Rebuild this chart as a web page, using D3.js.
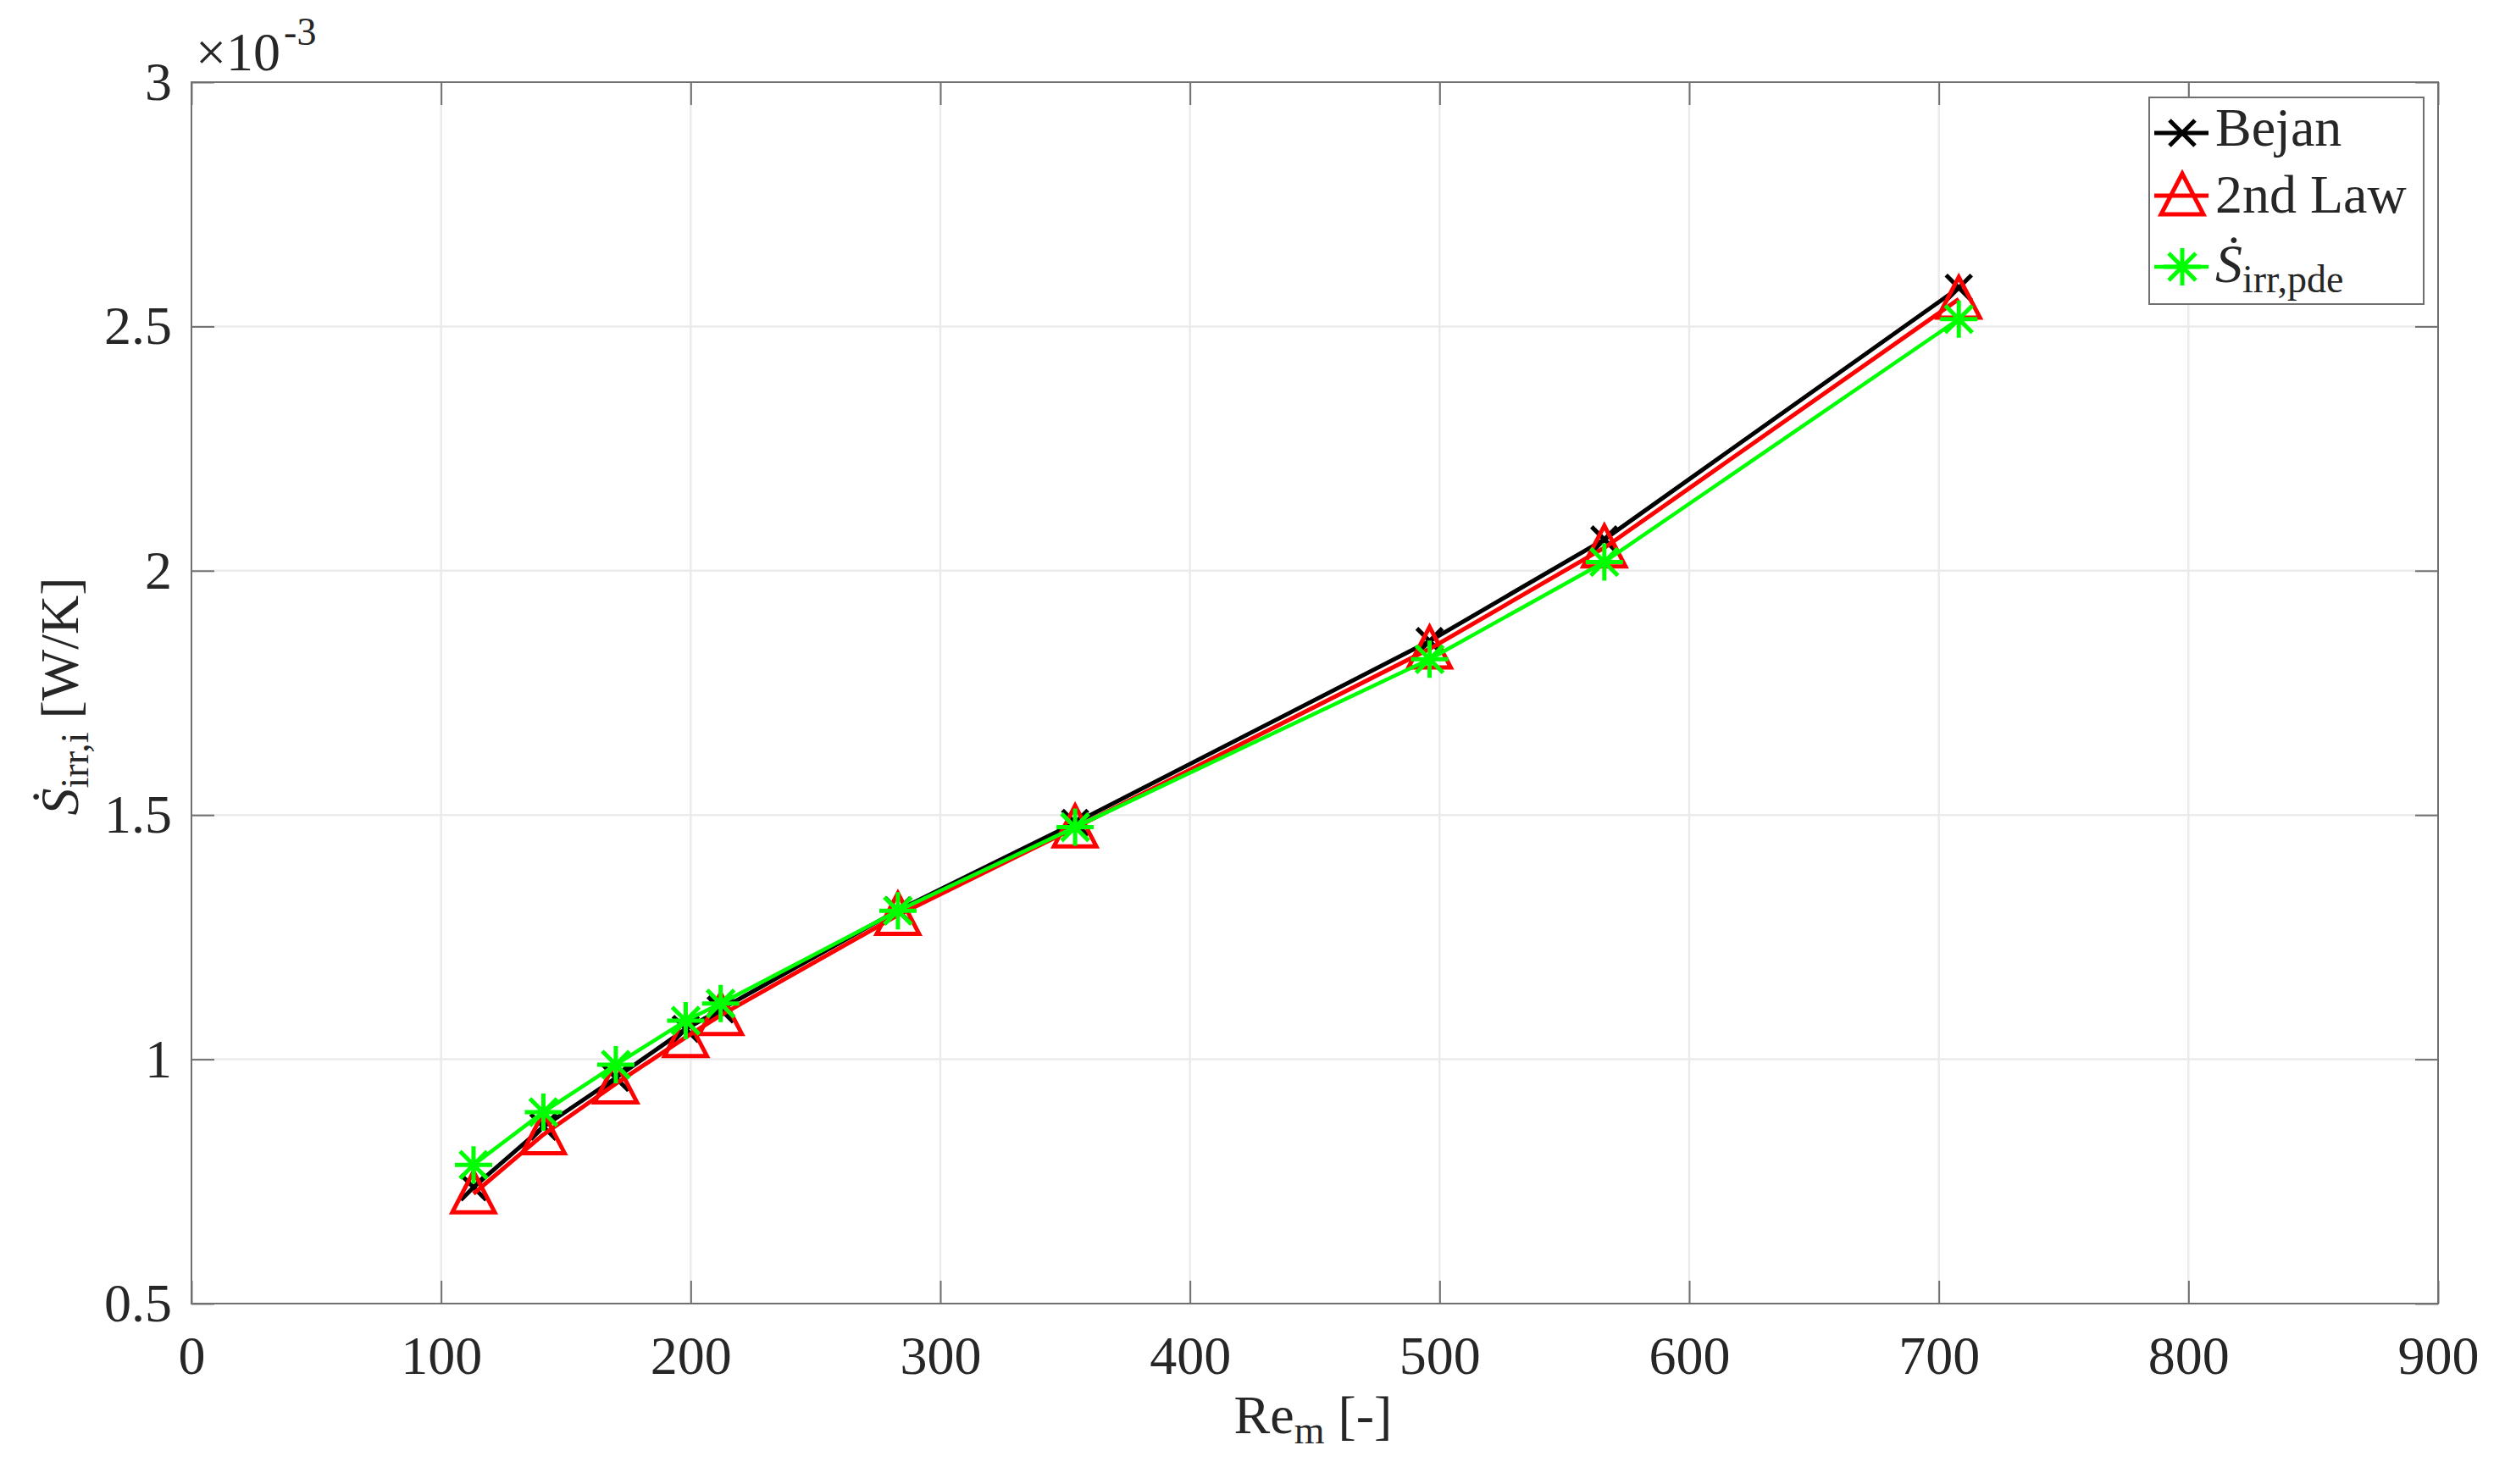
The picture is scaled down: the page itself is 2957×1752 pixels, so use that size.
<!DOCTYPE html>
<html>
<head>
<meta charset="utf-8">
<script src="https://cdn.jsdelivr.net/npm/d3@7"></script>
<style>
  html, body { margin: 0; padding: 0; background: #fff; }
  text { font-family: "Liberation Serif", "DejaVu Serif", serif; fill: #262626; }
</style>
</head>
<body>
<svg id="chart" width="2957" height="1752"></svg>
<script>
// ---- data ----
const reynolds = [113, 141, 170, 198, 212, 283, 354, 496, 566, 708];
const bejan    = [0.738, 0.862, 0.962, 1.062, 1.102, 1.305, 1.484, 1.856, 2.064, 2.579];
const secondLaw= [0.725, 0.846, 0.950, 1.045, 1.090, 1.295, 1.474, 1.840, 2.047, 2.556];
const sirrPde  = [0.784, 0.892, 0.989, 1.079, 1.114, 1.304, 1.475, 1.819, 2.018, 2.515];
const xTicks = [0, 100, 200, 300, 400, 500, 600, 700, 800, 900];
const yTicks = [0.5, 1, 1.5, 2, 2.5, 3];
const seriesNames = ["Bejan", "2nd Law", "Sirr"];

// ---- layout ----
const svg = d3.select("#chart");
const L = 226, R = 2878, T = 97, B = 1539;
const x = d3.scaleLinear().domain([0, 900]).range([L, R]);
const y = d3.scaleLinear().domain([0.5, 3]).range([B, T]);
const FS = 64;
const axisColor = "#707070";

svg.append("rect").attr("width", 2957).attr("height", 1752).attr("fill", "#fff");

// grid
const grid = svg.append("g");
grid.selectAll("line.gx").data(xTicks.slice(1, -1)).enter().append("line")
  .attr("x1", d => x(d)).attr("x2", d => x(d)).attr("y1", T).attr("y2", B)
  .attr("stroke", "#ebebeb").attr("stroke-width", 2.5);
grid.selectAll("line.gy").data(yTicks.slice(1, -1)).enter().append("line")
  .attr("y1", d => y(d)).attr("y2", d => y(d)).attr("x1", L).attr("x2", R)
  .attr("stroke", "#ebebeb").attr("stroke-width", 2.5);

// axes
function styleAxis(g, showLabels) {
  g.select(".domain").remove();
  g.selectAll(".tick line").attr("stroke", axisColor).attr("stroke-width", 2);
  if (!showLabels) g.selectAll(".tick text").remove();
  else g.selectAll(".tick text").attr("font-size", FS).attr("fill", "#262626")
        .attr("font-family", "Liberation Serif, serif");
}
const TL = 27;
svg.append("g").attr("transform", `translate(0,${B})`)
  .call(d3.axisBottom(x).tickValues(xTicks).tickSize(-TL).tickPadding(38).tickFormat(d3.format("d")))
  .call(g => styleAxis(g, true));
svg.append("g").attr("transform", `translate(0,${T})`)
  .call(d3.axisTop(x).tickValues(xTicks).tickSize(-TL))
  .call(g => styleAxis(g, false));
svg.append("g").attr("transform", `translate(${L},0)`)
  .call(d3.axisLeft(y).tickValues(yTicks).tickSize(-TL).tickPadding(23).tickFormat(d => String(d)))
  .call(g => styleAxis(g, true));
svg.append("g").attr("transform", `translate(${R},0)`)
  .call(d3.axisRight(y).tickValues(yTicks).tickSize(-TL))
  .call(g => styleAxis(g, false));

// box
svg.append("rect").attr("x", L).attr("y", T).attr("width", R - L).attr("height", B - T)
  .attr("fill", "none").attr("stroke", axisColor).attr("stroke-width", 2);

// exponent
const ex = svg.append("text").attr("x", 231).attr("y", 83).attr("font-size", FS);
ex.append("tspan").text("×10");
ex.append("tspan").attr("font-size", 46).attr("dy", -30).attr("dx", 4).text("-3");

// markers
const markerPaths = {
  x: () => "M-15,-15L15,15M-15,15L15,-15",
  tri: () => "M0,-26L25,22L-25,22Z",
  star: () => "M-22,0L22,0M0,-22L0,22M-16,-16L16,16M-16,16L16,-16"
};
const series = [
  { name: seriesNames[0], vals: bejan, color: "#000000", marker: "x", lw: 5 },
  { name: seriesNames[1], vals: secondLaw, color: "#ff0000", marker: "tri", lw: 5 },
  { name: seriesNames[2], vals: sirrPde, color: "#00ff00", marker: "star", lw: 4.5 }
];
const line = d3.line().x(d => x(d[0])).y(d => y(d[1]));
series.forEach(s => {
  const pts = reynolds.map((r, i) => [r, s.vals[i]]);
  const g = svg.append("g");
  g.append("path").datum(pts).attr("d", line).attr("fill", "none")
    .attr("stroke", s.color).attr("stroke-width", s.lw).attr("stroke-linejoin", "round");
  g.selectAll("path.m").data(pts).enter().append("path")
    .attr("class", "m")
    .attr("transform", d => `translate(${x(d[0])},${y(d[1])})`)
    .attr("d", markerPaths[s.marker]())
    .attr("fill", "none").attr("stroke", s.color).attr("stroke-width", 5);
});

// axis labels
const xl = svg.append("text").attr("x", 1550).attr("y", 1692).attr("text-anchor", "middle").attr("font-size", FS);
xl.append("tspan").text("Re");
xl.append("tspan").attr("font-size", 46).attr("dy", 12).text("m");
xl.append("tspan").attr("dy", -12).text(" [-]");

const yl = svg.append("text").attr("transform", "translate(92,822) rotate(-90)")
  .attr("text-anchor", "middle").attr("font-size", FS);
yl.append("tspan").attr("font-style", "italic").text("Ṡ");
yl.append("tspan").attr("font-size", 46).attr("dy", 12).text("irr,i");
yl.append("tspan").attr("dy", -12).text(" [W/K]");

// legend
const lg = svg.append("g");
lg.append("rect").attr("x", 2537).attr("y", 115).attr("width", 324).attr("height", 244)
  .attr("fill", "#fff").attr("stroke", axisColor).attr("stroke-width", 2);
const legY = [157, 231, 315];
const legBase = [172, 251, 333];
series.forEach((s, i) => {
  lg.append("line").attr("x1", 2543).attr("x2", 2607).attr("y1", legY[i]).attr("y2", legY[i])
    .attr("stroke", s.color).attr("stroke-width", s.lw);
  lg.append("path").attr("transform", `translate(2576,${legY[i]})`).attr("d", markerPaths[s.marker]())
    .attr("fill", "none").attr("stroke", s.color).attr("stroke-width", 5);
  const t = lg.append("text").attr("x", 2615).attr("y", legBase[i]).attr("font-size", FS);
  if (i < 2) t.text(s.name);
  else {
    t.append("tspan").attr("font-style", "italic").text("Ṡ");
    t.append("tspan").attr("font-size", 46).attr("dy", 12).text("irr,pde");
  }
});
</script>
</body>
</html>
